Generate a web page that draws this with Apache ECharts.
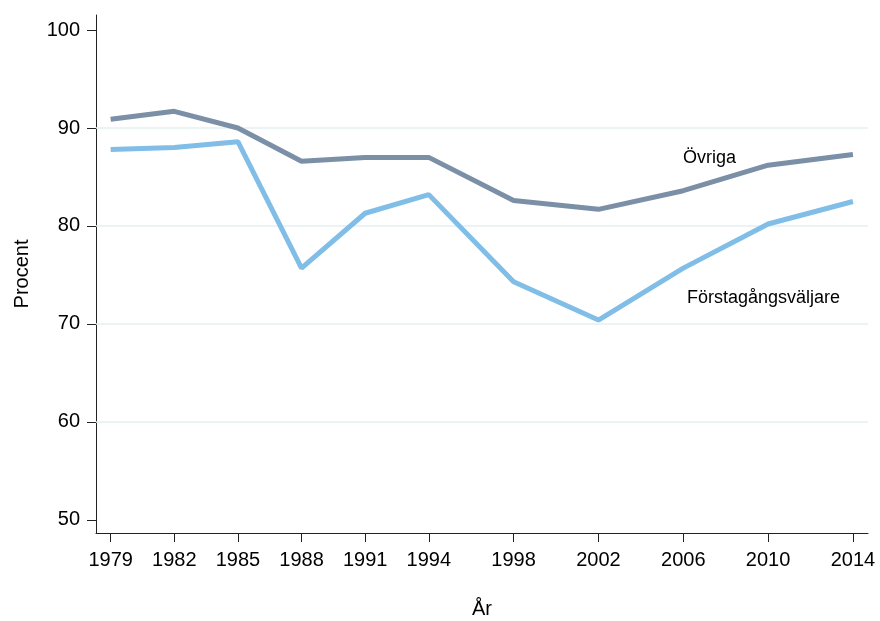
<!DOCTYPE html>
<html>
<head>
<meta charset="utf-8">
<script src="https://cdn.jsdelivr.net/npm/echarts@6/dist/echarts.min.js"></script>
<style>html,body{margin:0;padding:0;background:#fff;}#c{width:880px;height:621px;}</style>
</head>
<body>
<div id="c"></div>
<script>
var years = [1979, 1982, 1985, 1988, 1991, 1994, 1998, 2002, 2006, 2010, 2014];
var ovriga = [90.9, 91.7, 90.0, 86.6, 87.0, 87.0, 82.6, 81.7, 83.6, 86.2, 87.3];
var forsta = [87.8, 88.0, 88.6, 75.7, 81.3, 83.2, 74.3, 70.4, 75.7, 80.2, 82.5];
var yTicks = [50, 60, 70, 80, 90, 100];
var gridValues = [60, 70, 80, 90];

function pairs(xs, ys) { return xs.map(function (x, i) { return [x, ys[i]]; }); }

var font = 'Liberation Sans, Arial, sans-serif';
var chart = echarts.init(document.getElementById('c'), null, {renderer: 'canvas'});
chart.setOption({
  animation: false,
  backgroundColor: '#ffffff',
  grid: {left: 96, right: 12, top: 15, bottom: 88, containLabel: false, outerBoundsMode: 'none'},
  xAxis: {
    type: 'value', min: 1978.31, max: 2014.71,
    name: 'År', nameLocation: 'middle', nameGap: 66,
    nameTextStyle: {fontFamily: font, fontSize: 20, color: '#000'},
    axisLine: {show: true, lineStyle: {color: '#222', width: 1}},
    axisTick: {show: true, length: 9, customValues: years, lineStyle: {color: '#222'}},
    axisLabel: {customValues: years, formatter: function (v) { return String(v); },
      fontFamily: font, fontSize: 20, color: '#000', margin: 17},
    splitLine: {show: false}
  },
  yAxis: {
    type: 'value', min: 48.67, max: 101.53,
    name: 'Procent', nameLocation: 'middle', nameGap: 64, nameRotate: 90,
    nameTextStyle: {fontFamily: font, fontSize: 20, color: '#000'},
    axisLine: {show: true, lineStyle: {color: '#222', width: 1}},
    axisTick: {show: true, length: 9, customValues: yTicks, lineStyle: {color: '#222'}},
    axisLabel: {customValues: yTicks, fontFamily: font, fontSize: 20, color: '#000', margin: 16},
    splitLine: {show: false}
  },
  series: [
    {
      type: 'line', name: 'Förstagångsväljare', data: pairs(years, forsta),
      symbol: 'none', lineStyle: {color: '#80bde7', width: 5}, z: 3,
      markLine: {
        silent: true, symbol: 'none', label: {show: false},
        lineStyle: {color: '#e6eff2', width: 1.5, type: 'solid'},
        data: gridValues.map(function (v) { return {yAxis: v}; }), z: 1
      }
    },
    {
      type: 'line', name: 'Övriga', data: pairs(years, ovriga),
      symbol: 'none', lineStyle: {color: '#7b8fa7', width: 5}, z: 4
    }
  ],
  graphic: [
    {type: 'text', left: 683, top: 149, style: {text: 'Övriga', font: '18px ' + font, fill: '#000'}},
    {type: 'text', left: 687, top: 289, style: {text: 'Förstagångsväljare', font: '18px ' + font, fill: '#000'}}
  ]
});
</script>
</body>
</html>
